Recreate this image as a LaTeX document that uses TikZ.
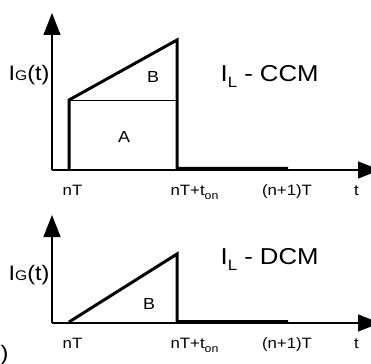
\documentclass[tikz,border=0pt]{standalone}
\usepackage{fontspec}
\setmainfont[FakeStretch=1.12]{Liberation Sans}
\usetikzlibrary{arrows.meta}

\begin{document}
\begin{tikzpicture}[x=1pt,y=-1pt,line width=1.2pt,
  every node/.style={font=\fontsize{15pt}{17pt}\selectfont,inner sep=0pt},
  axis/.style={-{Triangle[length=22pt,width=17pt]}},
  wave/.style={line width=3pt},
  big/.style={font=\fontsize{23pt}{25pt}\selectfont},
  ylab/.style={font=\fontsize{21pt}{23pt}\selectfont}]
  \useasboundingbox (0,0) rectangle (371,363);
  % top: CCM
  \coordinate (O1) at (52,170);
  \coordinate (Y1) at (52,13);
  \coordinate (X1) at (380,170);
  \coordinate (S1) at (69,170);
  \coordinate (P1) at (69,100);
  \coordinate (Q1) at (177,40);
  \coordinate (R1) at (177,100);
  \coordinate (E1) at (177,168.5);
  \coordinate (F1) at (288,168.5);
  \draw[axis] (O1) -- (Y1);
  \draw[axis] (O1) -- (X1);
  \draw[wave] (S1) -- (P1) -- (Q1) -- (E1) -- (F1);
  \draw[line width=0.9pt] (P1) -- (R1);
  \node[ylab,anchor=base] (y1) at (29,81) {I{\fontsize{14pt}{14pt}\selectfont G}(t)};
  \node[font=\fontsize{16pt}{18pt}\selectfont] (b1) at (153,77) {B};
  \node[font=\fontsize{16pt}{18pt}\selectfont] (a1) at (124,137) {A};
  \node[big,anchor=base west] (m1) at (220,82)
    {I\raisebox{-6pt}{\fontsize{15pt}{15pt}\selectfont L} - CCM};
  \node[anchor=base] (n1) at (72.5,195) {nT};
  \node[anchor=base west] (k1) at (170,195)
    {nT+t\raisebox{-4pt}{\fontsize{11pt}{11pt}\selectfont on}};
  \node[anchor=base] (j1) at (287,195) {(n+1)T};
  \node[anchor=base] (t1) at (356.5,195) {t};
  % bottom: DCM
  \coordinate (O2) at (52,323);
  \coordinate (Y2) at (52,215);
  \coordinate (X2) at (380,323);
  \coordinate (S2) at (69,322);
  \coordinate (Q2) at (177,254);
  \coordinate (E2) at (177,321.5);
  \coordinate (F2) at (288,321.5);
  \draw[axis] (O2) -- (Y2);
  \draw[axis] (O2) -- (X2);
  \draw[wave] (S2) -- (Q2) -- (E2) -- (F2);
  \node[ylab,anchor=base] (y2) at (29,280) {I{\fontsize{14pt}{14pt}\selectfont G}(t)};
  \node[font=\fontsize{16pt}{18pt}\selectfont] (b2) at (149,304) {B};
  \node[big,anchor=base west] (m2) at (220,264)
    {I\raisebox{-6pt}{\fontsize{15pt}{15pt}\selectfont L} - DCM};
  \node[anchor=base] (n2) at (72.5,348) {nT};
  \node[anchor=base west] (k2) at (170,348)
    {nT+t\raisebox{-4pt}{\fontsize{11pt}{11pt}\selectfont on}};
  \node[anchor=base] (j2) at (287,348) {(n+1)T};
  \node[anchor=base] (t2) at (356.5,348) {t};
  \node[ylab,anchor=base east] (lb) at (9,360) {b)};
\end{tikzpicture}
\end{document}
